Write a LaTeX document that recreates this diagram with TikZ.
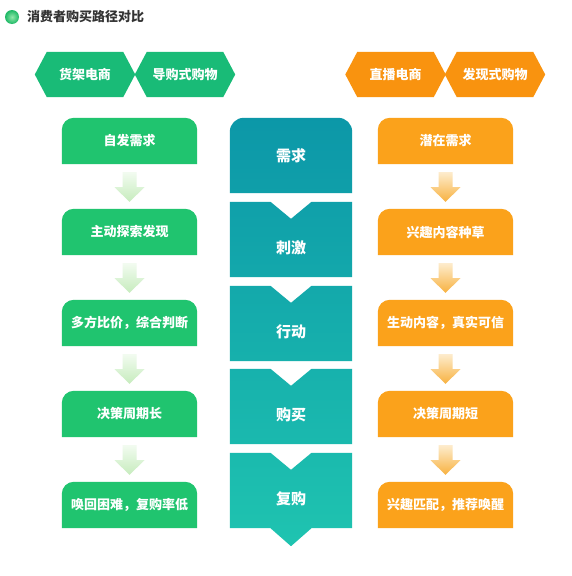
\documentclass[tikz,border=0pt]{standalone}
\usepackage{fontspec}
\newfontfamily\cjk{Noto Sans CJK SC}
\usetikzlibrary{backgrounds}
\definecolor{hexG}{HTML}{19BB77}
\definecolor{boxG}{HTML}{20C46F}
\definecolor{hexO}{HTML}{F9930F}
\definecolor{boxO}{HTML}{FBA21B}
\definecolor{tealA}{HTML}{0C97A8}
\definecolor{tealB}{HTML}{1FC4B0}
\definecolor{arrGa}{HTML}{F2FBF0}
\definecolor{arrGb}{HTML}{C6ECBD}
\definecolor{arrOa}{HTML}{FDECCD}
\definecolor{arrOb}{HTML}{F8B240}
\definecolor{titleC}{HTML}{333333}
\definecolor{dotA}{HTML}{90E8AA}
\definecolor{dotB}{HTML}{1DB865}
\begin{document}
\begin{tikzpicture}[x=1pt,y=-1pt,
  txt/.style={text=white, font=\cjk\bfseries\fontsize{13pt}{15pt}\selectfont},
  hexnode/.style={txt, minimum width=100pt, minimum height=45pt, inner sep=0pt},
  boxnode/.style={txt, minimum width=135pt, minimum height=46pt, inner sep=0pt},
  tealnode/.style={text=white, font=\cjk\bfseries\fontsize{15pt}{17pt}\selectfont, minimum width=122pt, inner sep=0pt},
  hexp/.style={insert path={(#1.west) -- ([xshift=12pt]#1.north west) -- ([xshift=-12pt]#1.north east) -- (#1.east) -- ([xshift=-12pt]#1.south east) -- ([xshift=12pt]#1.south west) -- cycle}},
  toprnd/.style={insert path={(#1.south west) -- ([yshift=-12pt]#1.north west) arc[start angle=180,end angle=90,radius=12pt] -- ([xshift=-12pt]#1.north east) arc[start angle=90,end angle=0,radius=12pt] -- (#1.south east) -- cycle}},
  tealtop/.style={insert path={(#1.south west) -- ([yshift=-14pt]#1.north west) arc[start angle=180,end angle=90,radius=14pt] -- ([xshift=-14pt]#1.north east) arc[start angle=90,end angle=0,radius=14pt] -- (#1.south east) -- cycle}},
  tealnotch/.style={insert path={([yshift=17pt]#1.north west) -- ([xshift=-20.5pt,yshift=17pt]#1.north) -- (#1.north) -- ([xshift=20.5pt,yshift=17pt]#1.north) -- ([yshift=17pt]#1.north east) -- (#1.south east) -- (#1.south west) -- cycle}},
  teallast/.style={insert path={([yshift=17pt]#1.north west) -- ([xshift=-20.5pt,yshift=17pt]#1.north) -- (#1.north) -- ([xshift=20.5pt,yshift=17pt]#1.north) -- ([yshift=17pt]#1.north east) -- (#1.south east) -- ([xshift=20.5pt]#1.south) -- ([yshift=-18pt]#1.south) -- ([xshift=-20.5pt]#1.south) -- (#1.south west) -- cycle}},
  barrow/.style 2 args={insert path={([xshift=-7pt,yshift=-8pt]#1.south) -- ([xshift=7pt,yshift=-8pt]#1.south) -- ([xshift=7pt,yshift=-23pt]#1.south) -- ([xshift=15pt,yshift=-23pt]#1.south) -- ([yshift=7pt]#2.north) -- ([xshift=-15pt,yshift=-23pt]#1.south) -- ([xshift=-7pt,yshift=-23pt]#1.south) -- cycle}},
  garrow/.style={top color=arrGa, bottom color=arrGb},
  oarrow/.style={top color=arrOa, bottom color=arrOb}
]
\useasboundingbox (0,0) rectangle (571,576);

% title
\node[circle, minimum size=14pt, inner sep=0pt] (dot) at (12,17) {};
\node[anchor=west, text=titleC, font=\cjk\bfseries\fontsize{13pt}{15pt}\selectfont, inner sep=0pt] (title) at (27,17) {消费者购买路径对比};

% hexagons
\node[hexnode] (h1) at (85,74.5) {货架电商};
\node[hexnode] (h2) at (185,74.5) {导购式购物};
\node[hexnode] (h3) at (395.5,74.5) {直播电商};
\node[hexnode] (h4) at (495,74.5) {发现式购物};

% green column
\node[boxnode] (g1) at (129.5,141) {自发需求};
\node[boxnode] (g2) at (129.5,232) {主动探索发现};
\node[boxnode] (g3) at (129.5,323) {多方比价，综合判断};
\node[boxnode] (g4) at (129.5,414) {决策周期长};
\node[boxnode] (g5) at (129.5,505) {唤回困难，复购率低};

% orange column
\node[boxnode] (o1) at (445.5,141) {潜在需求};
\node[boxnode] (o2) at (445.5,232) {兴趣内容种草};
\node[boxnode] (o3) at (445.5,323) {生动内容，真实可信};
\node[boxnode] (o4) at (445.5,414) {决策周期短};
\node[boxnode] (o5) at (445.5,505) {兴趣匹配，推荐唤醒};

% teal column
\node[tealnode, minimum height=75pt] (t1) at (291,155.5) {需求};
\node[tealnode, minimum height=58pt] (t2) at (291,248) {刺激};
\node[tealnode, minimum height=58pt] (t3) at (291,332) {行动};
\node[tealnode, minimum height=58pt] (t4) at (291,415) {购买};
\node[tealnode, minimum height=58pt] (t5) at (291,499) {复购};

\begin{scope}[on background layer]
  \fill[white] (0,0) rectangle (571,576);
  \shade[inner color=dotA, outer color=dotB] (dot.center) circle[radius=7pt];
  \fill[hexG] [hexp=h1];
  \fill[hexG] [hexp=h2];
  \fill[hexO] [hexp=h3];
  \fill[hexO] [hexp=h4];
  \foreach \n in {g1,g2,g3,g4,g5} {\fill[boxG] [toprnd=\n];}
  \foreach \n in {o1,o2,o3,o4,o5} {\fill[boxO] [toprnd=\n];}
  \shade[garrow] [barrow={g1}{g2}];
  \shade[garrow] [barrow={g2}{g3}];
  \shade[garrow] [barrow={g3}{g4}];
  \shade[garrow] [barrow={g4}{g5}];
  \shade[oarrow] [barrow={o1}{o2}];
  \shade[oarrow] [barrow={o2}{o3}];
  \shade[oarrow] [barrow={o3}{o4}];
  \shade[oarrow] [barrow={o4}{o5}];
  \begin{scope}
    \clip [tealtop=t1] [tealnotch=t2] [tealnotch=t3] [tealnotch=t4] [teallast=t5];
    \shade[top color=tealA, bottom color=tealB] (228,116) rectangle (354,548);
  \end{scope}
\end{scope}
\end{tikzpicture}
\end{document}
